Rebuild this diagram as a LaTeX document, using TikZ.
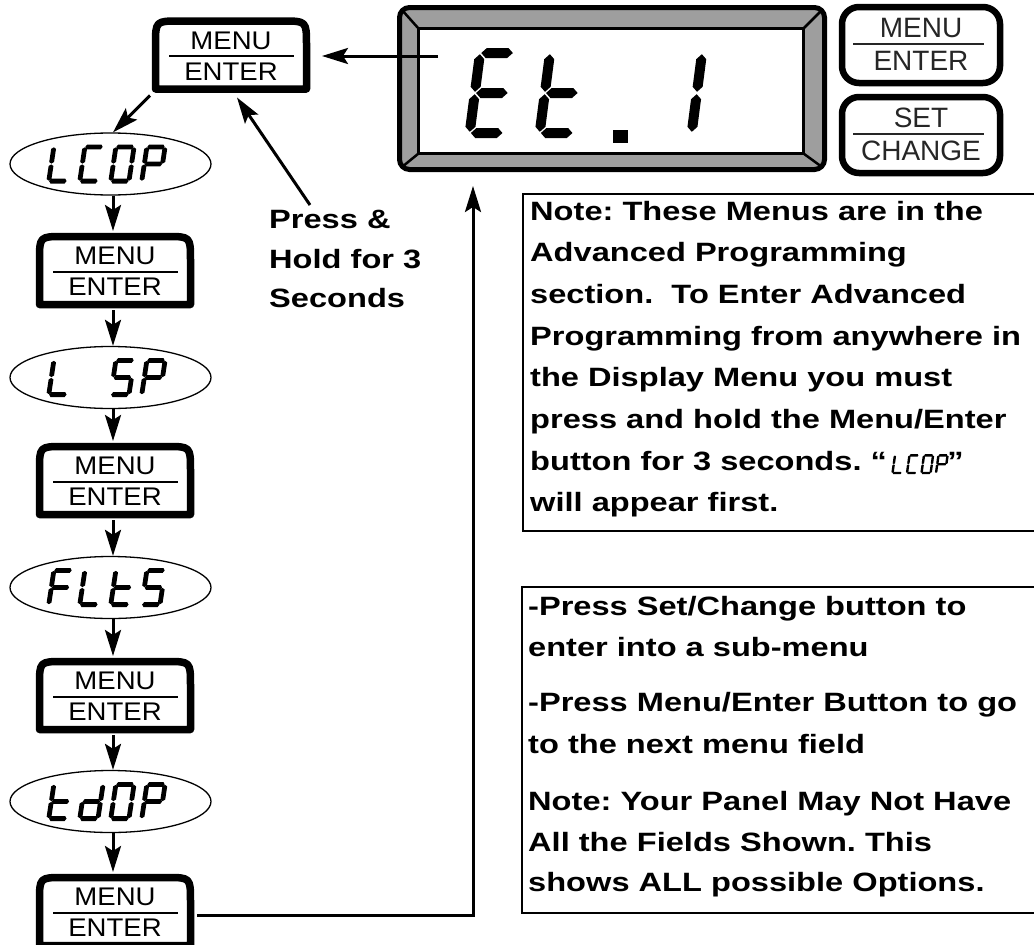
\documentclass[tikz,border=0pt]{standalone}
\usepackage{fontspec}
\setmainfont{Liberation Sans}
\newfontfamily\notefont[FakeStretch=1.23]{Liberation Sans}
\newfontfamily\btnfont[FakeStretch=1.08]{Liberation Sans}
\usetikzlibrary{calc,arrows.meta,shapes.geometric}

% seven-segment glyph machinery: width, height, thickness, gap, slant, taper
\newcommand\setseg[6]{\def\gW{#1}\def\gH{#2}\def\gT{#3}\def\gG{#4}\def\gS{#5}\def\gK{#6}}
\newcommand\hseg[1]{\fill ({\gT/2+\gG},{#1}) -- ({\gT/2+\gG+\gK},{#1-\gT/2}) -- ({\gW-\gT/2-\gG-\gK},{#1-\gT/2}) -- ({\gW-\gT/2-\gG},{#1}) -- ({\gW-\gT/2-\gG-\gK},{#1+\gT/2}) -- ({\gT/2+\gG+\gK},{#1+\gT/2}) -- cycle;}
\newcommand\vseg[3]{\fill ({#1},{#2}) -- ({#1+\gT/2},{#2+\gK}) -- ({#1+\gT/2},{#3-\gK}) -- ({#1},{#3}) -- ({#1-\gT/2},{#3-\gK}) -- ({#1-\gT/2},{#2+\gK}) -- cycle;}
\newcommand\sga{\hseg{-\gH+\gT/2}}
\newcommand\sgg{\hseg{-\gH/2}}
\newcommand\sgd{\hseg{-\gT/2}}
\newcommand\sgf{\vseg{\gT/2}{-\gH+\gT/2+\gG}{-\gH/2-\gG}}
\newcommand\sge{\vseg{\gT/2}{-\gH/2+\gG}{-\gT/2-\gG}}
\newcommand\sgb{\vseg{\gW-\gT/2}{-\gH+\gT/2+\gG}{-\gH/2-\gG}}
\newcommand\sgc{\vseg{\gW-\gT/2}{-\gH/2+\gG}{-\gT/2-\gG}}
\newcommand\glyph[3]{\begin{scope}[shift={(#1,#2)},xslant=\gS]#3\end{scope}}
\newcommand\chE{\sga\sgd\sge\sgf\sgg}
\newcommand\chT{\sgd\sge\sgf\sgg}
\newcommand\chOne{\sgb\sgc}
\newcommand\chL{\sgd\sge\sgf}
\newcommand\chC{\sga\sgd\sge\sgf}
\newcommand\chZero{\sga\sgb\sgc\sgd\sge\sgf}
\newcommand\chP{\sga\sgb\sge\sgf\sgg}
\newcommand\chFive{\sga\sgf\sgg\sgc\sgd}
\newcommand\chF{\sga\sge\sgf\sgg}
\newcommand\chD{\sgb\sgc\sgd\sge\sgg}

% flow button look
\newcommand\flowbtn[1]{%
  \draw[btnline] (#1.south west) -- ($(#1.north west)+(0,24)$) .. controls (#1.north west) .. ($(#1.north west)+(24,0)$)
    -- ($(#1.north east)+(-24,0)$) .. controls (#1.north east) .. ($(#1.north east)+(0,24)$) -- (#1.south east) -- cycle;
  \node[btntext] (#1-up) at ($(#1.center)+(0,-6)$) {MENU};
  \draw[sepline] ($(#1.center)+(-62,1)$) -- ($(#1.center)+(63,1)$);
  \node[btntext] (#1-lo) at ($(#1.center)+(0,25)$) {ENTER};
}
% panel button look
\newcommand\panelbtn[3]{%
  \draw[rbline] (#1.north west) rectangle (#1.south east);
  \node[rbtext] (#1-up) at ($(#1.center)+(0,-8)$) {#2};
  \draw[sepline, draw=black!85] ($(#1.center)+(-68,-1)$) -- ($(#1.center)+(63,-1)$);
  \node[rbtext] (#1-lo) at ($(#1.center)+(0,25)$) {#3};
}

\begin{document}
\begin{tikzpicture}[x=1pt,y=-1pt,
  arr/.style={line width=3pt, -{Stealth[length=26pt,width=16pt,inset=5pt]}},
  flow/.style={minimum width=151pt, minimum height=68pt, inner sep=0pt, outer sep=0pt},
  btnline/.style={line width=7.5pt, line join=round, fill=white},
  sepline/.style={line width=2pt},
  btntext/.style={font=\btnfont\fontsize{25.5}{30}\selectfont, anchor=base, inner sep=0pt},
  rbtnnode/.style={minimum width=158pt, minimum height=76pt, inner sep=0pt, outer sep=0pt},
  rbline/.style={line width=6.5pt, rounded corners=17pt, fill=white},
  rbtext/.style={font=\fontsize{28}{30}\selectfont, anchor=base, inner sep=0pt, text=black!85},
  ell/.style={ellipse, draw, line width=1.3pt, minimum width=201pt, minimum height=62pt, inner sep=0pt},
  notebox/.style={draw, line width=2.6pt, inner sep=0pt},
  notetxt/.style={font=\notefont\bfseries\fontsize{26.5}{30}\selectfont\frenchspacing, anchor=base west, inner sep=0pt},
  dispnode/.style={minimum width=425pt, minimum height=162pt, inner sep=0pt, outer sep=0pt}
]
\useasboundingbox (0,0) rectangle (1034,945);
\clip (0,0) rectangle (1034,945);
\fill[white] (0,0) rectangle (1034,945);

% ---------- display ----------
\node[dispnode] (disp) at (612,88.5) {};
\draw[line width=5pt, fill=black!38, rounded corners=10pt] (disp.north west) rectangle (disp.south east);
\draw[line width=3pt, fill=white] (418.5,28.5) rectangle (803.5,153.5);
\draw[line width=2.5pt] (402,10) -- (418.5,28.5);
\draw[line width=2.5pt] (822,10) -- (803.5,28.5);
\draw[line width=2.5pt] (402,167) -- (418.5,153.5);
\draw[line width=2.5pt] (822,167) -- (803.5,153.5);
\setseg{44}{90}{10}{1.2}{0.13}{5}
\glyph{464}{138}{\chE}
\glyph{534}{138}{\chT}
\fill (613,130) rectangle (628,143);
\glyph{652}{138}{\chOne}

% ---------- panel buttons ----------
\node[rbtnnode] (rb1) at (921,45) {};
\panelbtn{rb1}{MENU}{ENTER}
\node[rbtnnode] (rb2) at (921,135) {};
\panelbtn{rb2}{SET}{CHANGE}

% ---------- flow ----------
\node[flow] (m0) at (231,55) {};
\flowbtn{m0}
\node[flow] (m1) at (115,270.5) {};
\flowbtn{m1}
\node[flow] (m2) at (115,480.5) {};
\flowbtn{m2}
\node[flow] (m3) at (115,695.5) {};
\flowbtn{m3}
\node[flow] (m4) at (115,911.5) {};
\flowbtn{m4}

\node[ell] (e1) at (110.5,164) {};
\node[ell] (e2) at (110.5,377.5) {};
\node[ell] (e3) at (110.5,587.5) {};
\node[ell] (e4) at (110.5,801.5) {};

\setseg{23}{39}{4.8}{0.4}{0.15}{1.6}
% LCOP
\glyph{46}{183.5}{\chL}\glyph{77}{183.5}{\chC}\glyph{108}{183.5}{\chZero}\glyph{139}{183.5}{\chP}
% L SP
\glyph{46}{397}{\chL}\glyph{108}{397}{\chFive}\glyph{139}{397}{\chP}
% FLtS
\glyph{46}{607}{\chF}\glyph{77}{607}{\chL}\glyph{108}{607}{\chT}\glyph{139}{607}{\chFive}
% tdOP
\glyph{46}{821}{\chT}\glyph{77}{821}{\chD}\glyph{108}{821}{\chZero}\glyph{139}{821}{\chP}

% ---------- press & hold ----------
\node[notetxt] (p1) at (269,228) {Press \&};
\node[notetxt] (p2) at (269,268) {Hold for 3};
\node[notetxt] (p3) at (269,307) {Seconds};

% ---------- notes ----------
\node[notebox, minimum width=522pt, minimum height=337pt] (note1) at (784,362.5) {};
\node[notetxt] (n1) at (530,220) {Note: These Menus are in the};
\node[notetxt] (n2) at (530,261.7) {Advanced Programming};
\node[notetxt] (n3) at (530,303.4) {section.~ To Enter Advanced};
\node[notetxt] (n4) at (530,345.1) {Programming from anywhere in};
\node[notetxt] (n5) at (530,386.8) {the Display Menu you must};
\node[notetxt] (n6) at (530,428.5) {press and hold the Menu/Enter};
\node[notetxt] (n7) at (530,470.2) {button for 3 seconds. “};
\begin{scope}[shift={($(n7.base east)+(4,4)$)}]
  \setseg{11.5}{20}{2.4}{0.2}{0.14}{0.7}
  \glyph{0}{0}{\chL}\glyph{14.5}{0}{\chC}\glyph{29}{0}{\chZero}\glyph{43.5}{0}{\chP}
\end{scope}
\node[notetxt] (n7b) at ($(n7.base east)+(60,0)$) {”};
\node[notetxt] (n8) at (530,511.9) {will appear first.};

\node[notebox, minimum width=523pt, minimum height=326pt] (note2) at (783.5,750) {};
\node[notetxt] (q1) at (528,615) {-Press Set/Change button to};
\node[notetxt] (q2) at (528,656.5) {enter into a sub-menu};
\node[notetxt] (q3) at (528,711.5) {-Press Menu/Enter Button to go};
\node[notetxt] (q4) at (528,753) {to the next menu field};
\node[notetxt] (q5) at (528,810) {Note: Your Panel May Not Have};
\node[notetxt] (q6) at (528,851) {All the Fields Shown. This};
\node[notetxt] (q7) at (528,891.5) {shows ALL possible Options.};

% ---------- connectors ----------
\coordinate (dsrc) at (438,56);
\draw[arr] (dsrc) -- ($(m0.east)+(15.5,1)$);
\coordinate (hsrc) at (310,205);
\draw[arr] (hsrc) -- ($(m0.south)+(6,8.5)$);
\draw[arr] ($(m0.south west)+(-5.5,6.5)$) -- ($(e1.north)+(2.5,0)$);
\draw[arr] ($(e1.south)+(2.5,0)$) -- ($(m1.north)+(-2,-5.5)$);
\draw[arr] ($(m1.south)+(-2,5.5)$) -- ($(e2.north)+(2.5,0)$);
\draw[arr] ($(e2.south)+(2.5,0)$) -- ($(m2.north)+(-2,-5.5)$);
\draw[arr] ($(m2.south)+(-2,5.5)$) -- ($(e3.north)+(2.5,0)$);
\draw[arr] ($(e3.south)+(2.5,0)$) -- ($(m3.north)+(-2,-5.5)$);
\draw[arr] ($(m3.south)+(-2,5.5)$) -- ($(e4.north)+(2.5,0)$);
\draw[arr] ($(e4.south)+(2.5,0)$) -- ($(m4.north)+(-2,-5.5)$);
\coordinate (fbtip) at (473,186);
\draw[arr] ($(m4.east)+(6.5,3.5)$) -| (fbtip);
\end{tikzpicture}
\end{document}
